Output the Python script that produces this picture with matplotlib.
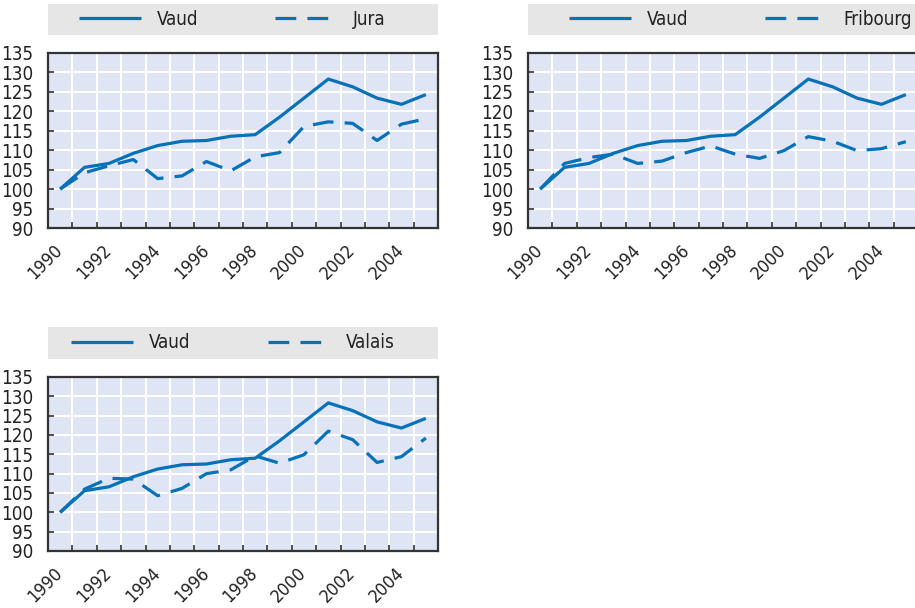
import matplotlib
matplotlib.use("Agg")
import matplotlib.pyplot as plt
import numpy as np

# ----------
# Data (index, 1990 = 100)
# ----------
years = list(range(1990, 2006))
vaud = [100, 105.6, 106.6, 109.2, 111.2, 112.3, 112.5, 113.6, 114.0,
        118.5, 123.4, 128.3, 126.3, 123.4, 121.8, 124.3]
jura = [100, 104.2, 106.0, 107.6, 102.7, 103.4, 107.1, 104.7, 108.3,
        109.4, 116.1, 117.3, 116.9, 112.5, 116.7, 118.1]
fribourg = [100, 106.6, 108.1, 109.0, 106.6, 107.2, 109.4, 111.1, 109.0,
            107.9, 109.9, 113.5, 112.3, 109.9, 110.4, 112.2]
valais = [100, 106.0, 108.8, 108.6, 104.3, 106.2, 110.0, 111.0, 114.6,
          112.7, 114.9, 121.0, 118.8, 112.9, 114.4, 119.2]
y_ticks = list(range(90, 140, 5))

panels = [("Jura", jura), ("Fribourg", fribourg), ("Valais", valais)]

# ----------
# Style
# ----------
plt.rcParams["font.family"] = ["DejaVu Sans"]
plt.rcParams["font.stretch"] = "condensed"
blue = "#0571b9"
plot_bg = "#dfe5f4"
legend_bg = "#e6e6e6"
text_col = "#222222"
lw = 2.3
dash = (6.5, 3.5)

fig = plt.figure(figsize=(9.15, 6.08), dpi=100)
W, H = 915.0, 608.0

# pixel boxes: (left, top, right, bottom) for legend strip and plot area
layout = [
    ((48, 4, 438, 35), (48, 53, 438, 228), 0.08),
    ((528, 4, 918, 35), (528, 53, 918, 228), 0.105),
    ((48, 327, 438, 359), (48, 377, 438, 551), 0.06),
]


def fig_rect(box):
    l, t, r, b = box
    return [l / W, 1 - b / H, (r - l) / W, (b - t) / H]


x = np.arange(len(years))
for (name, series), (lbox, pbox, lx) in zip(panels, layout):
    ax = fig.add_axes(fig_rect(pbox))
    ax.set_facecolor(plot_bg)
    ax.plot(x, vaud, color=blue, lw=lw, label="Vaud", solid_capstyle="butt")
    ax.plot(x, series, color=blue, lw=lw, dashes=dash, label=name,
            dash_capstyle="butt")
    ax.set_xlim(-0.5, len(years) - 0.5)
    ax.set_ylim(90, 135)
    ax.set_yticks(y_ticks)
    ax.set_yticklabels([str(v) for v in y_ticks], fontsize=13.5, color=text_col)
    ax.set_xticks(x[::2])
    ax.set_xticklabels([str(y) for y in years[::2]], rotation=45,
                       rotation_mode="anchor", ha="right", va="center",
                       fontsize=13, color=text_col)
    ax.set_xticks(x[:-1] + 0.5, minor=True)
    ax.tick_params(axis="x", which="major", length=0, pad=14)
    ax.tick_params(axis="x", which="minor", direction="in", length=4,
                   width=1.2, color="#333333")
    ax.tick_params(axis="y", direction="in", length=4, width=1.2,
                   color="#333333", pad=10.5)
    ax.grid(True, axis="x", which="minor", color="white", lw=1.4)
    ax.grid(True, axis="y", which="major", color="white", lw=1.4)
    ax.set_axisbelow(True)
    for sp in ax.spines.values():
        sp.set_color("#333333")
        sp.set_linewidth(1.6)

    # legend strip
    lax = fig.add_axes(fig_rect(lbox))
    lax.set_facecolor(legend_bg)
    lax.set_xticks([])
    lax.set_yticks([])
    for sp in lax.spines.values():
        sp.set_visible(False)
    handles, labels = ax.get_legend_handles_labels()
    lax.legend(handles, labels, loc="center left", bbox_to_anchor=(lx, 0.5),
               ncol=2, frameon=False, fontsize=13.5, handlelength=3.3,
               handletextpad=0.85, columnspacing=4.1, borderaxespad=0,
               borderpad=0, labelcolor=text_col)

fig.savefig("out.png", dpi=100)
